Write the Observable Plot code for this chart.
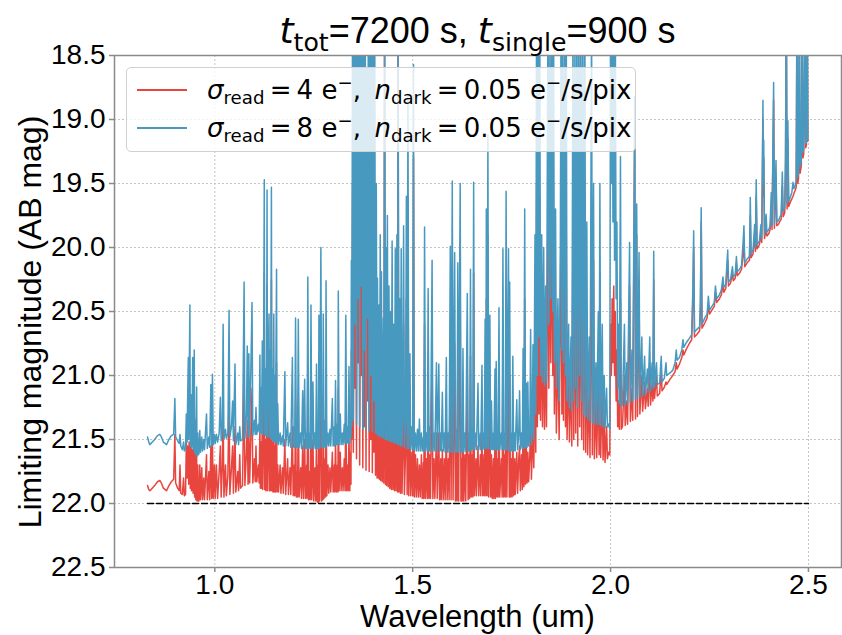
<!DOCTYPE html>
<html><head><meta charset="utf-8">
<script src="https://cdn.jsdelivr.net/npm/d3@7"></script>
<script src="https://cdn.jsdelivr.net/npm/@observablehq/plot@0.6"></script>
<style>
body{margin:0;background:#fff;}
#wrap{position:relative;width:842px;height:635px;overflow:hidden;background:#fff;}
#chart{position:absolute;left:0;top:0;}
.ov{position:absolute;white-space:nowrap;line-height:1;color:#000;}
#title{left:114px;width:727px;top:13px;text-align:center;font-family:"Liberation Sans";font-size:36px;}
.m{font-family:"DejaVu Sans";}
.m i{font-style:italic;}
sub,sup{font-size:70%;line-height:0;}
sub{vertical-align:-0.3em;}
sup{vertical-align:0.55em;}
#xlabel{left:114px;width:727px;top:601px;text-align:center;font-family:"Liberation Sans";font-size:31px;}
#ylabel{left:30px;top:322px;transform:translate(-50%,-50%) rotate(-90deg);font-family:"Liberation Sans";font-size:32px;}
#legend{position:absolute;left:126px;top:67px;width:510px;height:85px;background:rgba(255,255,255,0.8);border:1px solid #d0d0d0;border-radius:5px;box-sizing:border-box;}
.sw{position:absolute;left:10px;width:50px;height:2px;}
.lt{position:absolute;left:80px;font-family:"DejaVu Sans";font-size:26px;line-height:1;white-space:nowrap;}
</style></head>
<body>
<div id="wrap">
<div id="chart"></div>
<div id="title" class="ov"><span class="m"><i>t</i><sub>tot</sub></span>=7200 s, <span class="m"><i>t</i><sub>single</sub></span>=900 s</div>
<div id="xlabel" class="ov"></div>
<div id="ylabel" class="ov"></div>
<div id="legend"></div>
</div>
<script>
// ---- data: [wavelength (um), limiting mag (read 4 e-), limiting mag (read 8 e-)] ----
const yBand = [
[0.830,21.86,21.48],[0.833,21.89,21.52],[0.836,21.90,21.54],[0.842,21.88,21.52],[0.848,21.86,21.50],
[0.855,21.83,21.47],[0.861,21.82,21.46],[0.865,21.84,21.48],[0.870,21.88,21.52],[0.878,21.90,21.54],
[0.884,21.86,21.50],[0.890,21.83,21.47],[0.896,21.81,21.46],[0.899,21.46,21.18],[0.901,21.84,21.48],
[0.906,21.88,21.51],[0.910,21.90,21.53],[0.912,21.70,21.46],[0.914,21.92,21.55],[0.918,21.93,21.58],
[0.921,21.80,21.52],[0.923,21.94,21.59],[0.926,21.93,21.57],
[0.928,21.52,21.30],[0.930,21.80,21.52],[0.931,21.55,21.25],[0.933,21.65,20.86],[0.934,21.85,21.50],
[0.935,21.52,21.10],[0.937,21.60,20.45],[0.938,21.88,21.55],[0.940,21.55,21.15],[0.941,21.90,21.56],
[0.943,21.58,21.25],[0.944,21.70,20.86],[0.945,21.92,21.58],[0.947,21.55,21.20],[0.948,21.65,20.80],
[0.949,21.95,21.60],[0.951,21.60,21.35],[0.952,21.97,21.62],[0.954,21.62,21.09],[0.955,21.98,21.63],
[0.957,21.70,21.45],[0.958,21.98,21.62],[0.960,21.98,21.61],[0.962,21.70,21.43],[0.964,21.97,21.60],
[0.967,21.72,21.48],[0.969,21.97,21.59],[0.972,21.80,21.50],[0.974,21.97,21.58],[0.979,21.62,21.30],
[0.981,21.97,21.57],[0.985,21.75,21.48],[0.987,21.97,21.56],[0.990,21.55,21.07],[0.992,21.96,21.55],
[0.994,21.52,20.99],[0.996,21.96,21.54],[0.999,21.70,21.46],[1.001,21.96,21.53]
];
const jBand = [
[1.004,21.70,21.46],[1.007,21.96,21.52],[1.011,21.75,21.45],[1.014,21.55,21.17],[1.016,21.95,21.51],
[1.019,21.70,21.40],[1.021,21.30,20.60],[1.023,21.95,21.50],[1.027,21.70,21.42],[1.029,21.94,21.49],
[1.033,21.78,21.45],[1.036,21.15,20.49],[1.038,21.93,21.48],[1.042,21.72,21.40],[1.045,21.55,21.20],
[1.047,21.92,21.51],[1.051,21.40,20.91],[1.053,21.91,21.54],[1.058,21.75,21.45],[1.060,21.90,21.54],
[1.063,21.62,21.40],[1.065,21.88,21.51],[1.070,21.86,21.50],[1.074,21.00,20.27],[1.076,21.86,21.49],
[1.080,21.60,21.30],[1.082,21.35,20.77],[1.084,21.85,21.48],[1.086,21.40,20.83],[1.088,21.84,21.47],
[1.094,21.10,20.43],[1.096,21.84,21.47],[1.100,21.65,21.35],[1.102,21.83,21.46],[1.104,21.55,21.25],
[1.106,21.83,21.46],[1.110,21.70,21.38],[1.112,21.84,21.44],
[1.114,21.40,20.84],[1.115,21.88,21.45],[1.117,21.52,21.10],[1.118,21.88,21.45],[1.120,21.30,20.73],
[1.121,21.89,21.46],[1.123,21.52,21.00],[1.125,20.20,19.47],[1.126,21.89,21.46],[1.128,21.50,20.95],
[1.129,21.90,21.47],[1.131,21.55,20.85],[1.132,20.30,19.55],[1.133,21.90,21.48],[1.135,21.52,20.90],
[1.137,21.10,20.52],[1.138,21.90,21.48],[1.140,21.52,20.80],[1.141,21.90,21.49],[1.143,20.25,19.53],
[1.144,21.90,21.50],[1.146,21.53,20.95],[1.147,21.91,21.51],[1.149,21.10,20.52],[1.150,21.91,21.52],
[1.152,21.55,21.00],[1.153,21.91,21.52],[1.156,20.90,20.17],[1.157,21.91,21.53],[1.159,21.70,21.22],
[1.161,21.91,21.54],[1.165,21.70,21.45],[1.167,21.92,21.54],[1.171,21.72,21.47],[1.173,21.92,21.55],
[1.177,21.50,20.97],[1.179,21.93,21.55],[1.184,21.65,21.37],[1.186,21.93,21.55],[1.190,21.72,21.45],
[1.192,21.93,21.56],[1.196,21.40,20.86],[1.198,21.94,21.56],[1.201,21.70,21.40],[1.202,21.94,21.56],
[1.204,21.20,20.55],[1.206,21.95,21.56],[1.208,21.75,21.45],[1.209,21.95,21.56],[1.211,21.20,20.56],
[1.213,21.95,21.56],[1.217,21.72,21.45],[1.219,21.96,21.57],[1.222,21.55,21.12],[1.224,21.96,21.57],
[1.227,21.50,21.03],[1.229,21.96,21.57],[1.232,21.70,21.45],[1.233,21.96,21.57],[1.235,20.95,20.23],
[1.237,21.97,21.57],[1.240,21.75,21.45],[1.241,21.97,21.57],[1.243,21.15,20.45],[1.245,21.97,21.57],
[1.248,21.50,21.05],[1.250,21.98,21.57],[1.253,21.72,21.45],[1.255,21.98,21.57],[1.257,21.45,20.91],
[1.259,21.99,21.57],[1.261,21.70,21.40],[1.262,21.99,21.57],[1.263,21.20,20.53],[1.265,21.98,21.57],
[1.268,20.80,20.00],[1.270,21.98,21.56],[1.272,21.70,21.42],[1.273,21.97,21.56],[1.274,21.20,20.52],
[1.276,21.96,21.56],[1.279,21.65,21.35],[1.280,21.95,21.56],[1.281,21.05,20.26],[1.283,21.94,21.55],
[1.286,21.70,21.45],[1.288,21.92,21.55],[1.291,21.72,21.42],[1.293,21.91,21.55],[1.297,21.60,21.18],
[1.299,21.91,21.55],[1.302,21.70,21.40],[1.303,21.91,21.55],[1.305,21.50,21.04],[1.307,21.91,21.54],
[1.310,21.70,21.38],[1.311,21.91,21.54],[1.312,21.10,20.34],[1.314,21.90,21.54],[1.317,21.60,21.30],
[1.319,21.90,21.54],[1.322,21.72,21.45],[1.324,21.90,21.54],[1.327,21.65,21.38],[1.329,21.90,21.53],
[1.331,21.20,20.53],[1.333,21.90,21.53],[1.336,21.70,21.40],[1.337,21.90,21.53],[1.339,21.45,20.93],
[1.341,21.90,21.53],[1.343,21.60,21.30],[1.344,21.85,21.48],[1.345,20.80,20.10]
];
const ohGap1 = [
[1.346,21.50,21.40],[1.348,19.50,18.00],[1.350,21.60,21.35],[1.352,19.80,18.00],[1.354,21.10,20.60],
[1.356,19.00,17.80],[1.358,21.65,21.38],[1.360,19.40,18.20],[1.362,20.90,20.40],[1.364,19.20,17.90],
[1.366,21.70,21.40],[1.368,19.60,18.10],[1.370,21.00,20.30],[1.372,19.50,18.00],[1.374,21.72,21.42],
[1.376,19.70,18.30],[1.378,21.40,20.80],[1.380,19.30,17.90],[1.382,21.74,21.42],[1.384,20.00,18.60],
[1.386,21.20,20.55],[1.388,19.50,18.00],[1.390,21.75,21.43],[1.392,19.80,18.20],[1.394,21.50,21.00],
[1.396,19.40,17.90],[1.398,21.76,21.44],[1.400,20.10,18.50],[1.402,21.60,21.20],[1.404,19.60,18.00],
[1.406,21.78,21.45],[1.408,20.50,19.50],[1.410,21.80,21.46]
];
const hBand = [
[1.411,21.00,20.24],[1.413,21.80,21.47],[1.415,21.10,20.45],[1.416,21.81,21.47],[1.418,20.70,19.90],
[1.419,21.82,21.48],[1.421,20.90,20.19],[1.423,21.83,21.48],[1.426,21.20,20.55],[1.427,21.84,21.49],
[1.429,18.30,17.90],[1.431,21.85,21.50],[1.432,20.70,20.00],[1.434,21.86,21.50],[1.436,20.50,19.75],
[1.438,21.87,21.51],[1.440,21.00,20.30],[1.442,21.88,21.51],[1.444,21.20,20.50],[1.446,21.89,21.52],
[1.448,20.70,19.95],[1.450,21.89,21.52],[1.452,21.30,20.60],[1.454,21.90,21.53],[1.456,20.80,20.01],
[1.458,21.90,21.53],[1.460,20.60,19.90],[1.462,21.91,21.54],[1.463,18.50,18.00],[1.465,21.91,21.54],
[1.467,21.10,20.40],[1.469,21.92,21.55],[1.471,20.80,20.01],[1.473,21.92,21.55],[1.475,21.60,21.30],
[1.477,20.60,19.83],[1.479,21.93,21.56],[1.482,21.60,21.35],[1.484,20.40,19.60],[1.486,21.93,21.57],
[1.488,19.60,18.80],[1.490,21.94,21.57],[1.493,21.40,20.83],[1.495,21.94,21.58],[1.498,21.60,21.40],
[1.500,21.94,21.58],[1.502,19.30,18.57],[1.504,21.95,21.58],[1.507,21.62,21.45],[1.509,21.95,21.59],
[1.512,21.65,21.42],[1.514,21.95,21.59],[1.517,21.70,21.34],[1.519,21.95,21.59],[1.522,21.62,21.45],
[1.524,21.96,21.59],[1.527,21.68,21.48],[1.528,21.96,21.59],[1.530,20.60,19.84],[1.532,21.96,21.59],
[1.535,21.65,21.45],[1.537,21.96,21.59],[1.539,21.00,20.32],[1.541,21.96,21.59],[1.544,21.62,21.40],
[1.545,21.96,21.59],[1.549,20.80,20.10],[1.551,21.96,21.59],[1.554,21.65,21.45],[1.556,21.96,21.59],
[1.560,21.45,20.90],[1.562,21.96,21.59],[1.566,21.45,20.91],[1.568,21.97,21.59],[1.571,21.65,21.45],
[1.572,21.97,21.59],[1.575,21.58,21.13],[1.577,21.97,21.59],[1.580,21.65,21.45],[1.582,21.97,21.60],
[1.585,21.40,20.86],[1.587,21.97,21.60],[1.590,21.65,21.45],[1.592,21.97,21.60],[1.595,20.70,19.99],
[1.597,21.97,21.60],[1.600,20.20,19.48],[1.602,21.97,21.60],[1.606,20.75,20.04],[1.608,21.98,21.60],
[1.611,21.60,21.42],[1.612,21.98,21.60],[1.614,20.85,20.12],[1.616,21.98,21.60],[1.620,20.25,19.50],
[1.622,21.98,21.60],[1.624,21.65,21.45],[1.625,21.98,21.60],[1.627,21.35,20.79],[1.629,21.98,21.60],
[1.632,21.62,21.45],[1.634,21.98,21.59],[1.638,21.00,20.36],[1.640,21.97,21.59],[1.643,21.62,21.45],
[1.644,21.96,21.59],[1.646,20.85,20.17],[1.648,21.95,21.58],[1.651,21.62,21.42],[1.652,21.95,21.58],
[1.654,20.20,19.49],[1.656,21.94,21.58],[1.660,21.65,21.45],[1.661,21.94,21.58],[1.665,21.55,21.06],
[1.667,21.94,21.58],[1.671,21.62,21.45],[1.672,21.94,21.58],[1.675,21.45,20.92],[1.677,21.94,21.58],
[1.680,21.62,21.45],[1.681,21.94,21.57],[1.683,21.20,20.56],[1.685,21.94,21.57],[1.686,20.40,19.70],
[1.688,21.94,21.57],[1.690,19.90,19.12],[1.692,21.95,21.57],[1.695,21.20,20.53],[1.697,21.95,21.58],
[1.699,21.62,21.20],[1.701,21.96,21.58],[1.704,21.65,21.45],[1.705,21.96,21.58],[1.708,21.50,20.95],
[1.709,21.96,21.58],[1.711,21.45,20.89],[1.713,21.95,21.58],[1.715,21.65,21.45],[1.716,21.95,21.58],
[1.718,21.15,20.47],[1.720,21.95,21.58],[1.724,21.65,21.45],[1.726,21.95,21.58],[1.728,20.75,20.01],
[1.730,21.95,21.58],[1.733,21.62,21.45],[1.734,21.95,21.58],[1.736,20.30,19.56],[1.738,21.95,21.58],
[1.742,20.75,20.01],[1.744,21.95,21.59],[1.745,21.00,20.27],[1.747,21.95,21.59],[1.750,21.65,21.45],
[1.751,21.95,21.59],[1.753,21.40,20.85],[1.755,21.94,21.59],[1.758,21.65,21.45],[1.759,21.93,21.59],
[1.763,21.60,21.19],[1.765,21.92,21.58],[1.768,21.65,21.45],[1.770,21.55,21.12],[1.772,21.90,21.58],
[1.775,21.62,21.45],[1.777,21.89,21.57],[1.779,21.35,20.79],[1.781,21.87,21.57],[1.783,20.40,19.70],
[1.785,21.85,21.56],[1.787,21.55,21.06],[1.789,21.84,21.56],[1.791,21.60,21.05],[1.793,21.83,21.55],
[1.796,21.62,21.45],[1.798,21.30,20.64],[1.800,21.81,21.54],[1.802,21.60,21.40],[1.804,21.35,20.76],
[1.806,21.72,21.50]
];
const ohGap2 = [
[1.809,20.80,19.90],[1.811,21.60,21.30],[1.813,19.50,18.00],[1.815,21.40,21.00],[1.817,19.70,18.10],
[1.819,21.30,20.70],[1.821,19.60,18.00],[1.823,21.35,21.00],[1.826,20.50,19.90],[1.828,21.40,21.05],
[1.831,20.60,20.00],[1.833,21.42,21.08],[1.836,20.70,20.30],[1.838,21.40,21.05],[1.842,19.60,18.00],
[1.844,21.10,20.60],[1.847,19.80,18.20],[1.849,20.90,20.40],[1.852,19.50,18.00],[1.854,21.00,20.50],
[1.856,19.70,18.10],[1.858,21.30,20.90],[1.861,20.40,19.70],[1.863,21.45,21.10],[1.867,20.80,20.40],
[1.870,21.50,21.20],[1.873,20.60,20.00],[1.875,19.50,18.00],[1.877,21.30,20.80],[1.879,19.60,18.10],
[1.881,21.35,20.90],[1.884,19.70,18.20],[1.886,21.40,21.00],[1.888,19.80,18.10],[1.890,21.50,21.20],
[1.894,20.90,20.60],[1.896,21.52,21.25],[1.900,21.00,20.70],[1.902,21.55,21.28],[1.905,19.80,18.20],
[1.907,21.50,21.20],[1.910,19.90,18.30],[1.912,21.45,21.10],[1.915,19.70,18.00],[1.917,21.55,21.25],
[1.920,19.80,18.10],[1.922,21.40,21.00],[1.925,19.60,18.00],[1.927,21.50,21.20],[1.930,19.90,18.20],
[1.932,21.58,21.30],[1.935,19.70,18.10],[1.937,21.60,21.32],[1.940,20.50,19.80],[1.942,21.62,21.34],
[1.946,21.10,20.70],[1.948,21.64,21.36],[1.952,19.80,18.20],[1.954,21.62,21.37],[1.957,20.10,19.50],
[1.959,21.65,21.38],[1.963,21.20,20.90],[1.965,21.64,21.38],[1.969,21.00,20.50],[1.971,21.62,21.38],
[1.973,20.20,19.50],[1.975,21.64,21.39],[1.979,21.10,20.60],[1.981,21.66,21.40],[1.984,21.30,21.00],
[1.986,21.68,21.41],[1.990,21.40,21.10],[1.992,21.65,21.40],[1.995,21.60,21.38],[1.998,21.62,21.42],
[2.000,20.60,18.00],[2.002,21.00,19.50],[2.004,20.40,18.00],[2.006,20.90,19.80],[2.008,20.30,18.00],
[2.010,21.00,20.10],[2.012,20.50,18.20],[2.014,21.20,20.40],[2.016,20.80,19.80],[2.018,21.40,21.10],
[2.020,21.20,20.60],[2.022,21.42,21.22],[2.025,20.40,19.29],[2.027,21.42,21.24]
];
const kBand = [
[2.030,21.40,21.23],[2.035,21.00,20.60],[2.037,21.39,21.23],[2.041,21.20,20.90],[2.043,21.38,21.22],
[2.048,20.30,19.96],[2.050,21.36,21.21],[2.054,21.10,20.80],[2.056,21.35,21.20],[2.061,19.10,18.82],
[2.063,21.34,21.19],[2.066,19.90,19.66],[2.068,21.32,21.18],[2.072,20.30,20.04],[2.074,21.30,21.17],
[2.079,21.00,20.70],[2.081,21.28,21.16],[2.086,21.05,20.85],[2.088,21.26,21.15],[2.093,21.10,20.95],
[2.095,21.24,21.13],[2.099,20.90,20.70],[2.101,21.23,21.12],[2.105,21.05,20.90],[2.107,21.20,21.10],
[2.109,20.25,20.03],[2.111,21.18,21.09],[2.116,21.00,20.90],[2.118,21.16,21.07],[2.124,21.14,21.06],
[2.128,20.95,20.85],[2.130,21.12,21.05],[2.136,21.09,21.02],[2.140,21.05,20.90],[2.142,21.07,21.00],
[2.150,21.03,20.98],[2.157,21.00,20.96],[2.163,20.97,20.90],[2.166,20.90,20.80],[2.168,20.95,20.88],
[2.174,20.91,20.86],[2.180,20.86,20.80],[2.183,20.80,20.72],[2.185,20.84,20.78],[2.192,20.79,20.74],
[2.199,20.75,20.71],[2.205,20.72,20.68],[2.208,20.40,20.30],[2.210,20.00,19.87],[2.212,20.70,20.66],
[2.218,20.68,20.64],[2.225,20.65,20.62],[2.227,20.50,20.40],[2.229,19.80,19.69],[2.231,20.63,20.60],
[2.238,20.59,20.55],[2.244,20.55,20.52],[2.247,20.45,20.38],[2.250,20.52,20.49],[2.256,20.49,20.46],
[2.262,20.46,20.43],[2.265,20.35,20.30],[2.268,20.43,20.40],[2.275,20.40,20.37],[2.280,20.37,20.33],
[2.284,20.28,20.23],[2.286,20.35,20.31],[2.291,20.32,20.29],[2.296,20.10,20.02],[2.298,20.30,20.27],
[2.303,20.28,20.25],[2.308,20.20,20.15],[2.310,20.26,20.23],[2.315,20.24,20.21],[2.318,20.12,20.07],
[2.320,20.22,20.19],[2.326,20.20,20.17],[2.331,20.17,20.14],[2.335,20.05,19.95],[2.337,19.95,19.83],
[2.339,20.15,20.12],[2.345,20.12,20.09],[2.351,20.10,20.07],[2.353,19.75,19.61],[2.355,20.08,20.05],
[2.360,20.05,20.02],[2.364,19.90,19.82],[2.366,20.03,20.00],[2.368,19.60,19.47],[2.370,20.01,19.98],
[2.376,19.98,19.95],[2.380,19.90,19.82],[2.382,19.96,19.93],[2.385,19.00,18.85],[2.386,19.60,19.50],
[2.387,19.30,19.16],[2.389,19.93,19.90],[2.393,19.85,19.74],[2.395,19.91,19.88],[2.400,19.89,19.86],
[2.403,19.86,19.83],[2.406,19.70,19.57],[2.408,19.86,19.83],[2.412,18.85,18.71],[2.414,19.85,19.82],
[2.418,19.45,19.32],[2.420,19.83,19.80],[2.424,19.82,19.79],[2.427,19.80,19.77],[2.431,19.78,19.74],
[2.434,19.52,19.41],[2.436,19.76,19.72],[2.440,19.73,19.69],[2.442,19.40,19.30],[2.444,18.10,17.90],
[2.446,19.70,19.66],[2.448,19.15,19.01],[2.450,19.68,19.64],[2.455,19.64,19.60],[2.458,19.62,19.57],
[2.461,19.60,19.49],[2.463,19.58,19.54],[2.467,19.55,19.51],[2.469,19.53,19.48],[2.471,18.20,17.90],
[2.473,19.50,19.45],[2.475,19.46,19.41],[2.477,18.30,17.90],[2.479,19.42,19.37],[2.482,19.36,19.31],
[2.484,18.30,17.90],[2.486,19.30,19.26],[2.488,19.27,19.23],[2.491,18.30,17.90],[2.493,19.22,19.19],
[2.495,19.20,19.17],[2.497,18.30,17.90],[2.4985,19.17,19.16]
];
const thresholdMag = 22.0;
const thresholdRange = [0.83, 2.5];
const xTicks = [1.0, 1.5, 2.0, 2.5];
const yTicks = [18.5, 19.0, 19.5, 20.0, 20.5, 21.0, 21.5, 22.0, 22.5];
const seriesNames = ["read4", "read8"];
const seriesColors = ["#e8453f", "#4799c0"];
const seriesLabels = [
  '<span class="m"><i>σ</i><sub>read</sub>&#8201;=&#8201;4 e<sup>−</sup>, &#8201;<i>n</i><sub>dark</sub>&#8201;=&#8201;0.05 e<sup>−</sup>/s/pix</span>',
  '<span class="m"><i>σ</i><sub>read</sub>&#8201;=&#8201;8 e<sup>−</sup>, &#8201;<i>n</i><sub>dark</sub>&#8201;=&#8201;0.05 e<sup>−</sup>/s/pix</span>'
];
const xLabel = "Wavelength (um)";
const yLabel = "Limiting magnitude (AB mag)";

const spectrum = [...yBand, ...jBand, ...ohGap1, ...hBand, ...ohGap2, ...kBand];

const chart = Plot.plot({
  width: 842, height: 635,
  marginLeft: 114, marginRight: 1, marginTop: 55, marginBottom: 68,
  style: {fontFamily: "Liberation Sans", background: "#fff", overflow: "visible"},
  x: {domain: [0.7465, 2.5835]},
  y: {domain: [22.5, 18.5]},
  marks: [
    Plot.gridX(xTicks, {stroke: "#c4c4c4", strokeOpacity: 1, strokeDasharray: "2,2", strokeWidth: 1}),
    Plot.gridY(yTicks, {stroke: "#c4c4c4", strokeOpacity: 1, strokeDasharray: "2,2", strokeWidth: 1}),
    Plot.line(spectrum, {x: d => d[0], y: d => d[1], stroke: seriesColors[0], strokeWidth: 1.5, clip: true}),
    Plot.line(spectrum, {x: d => d[0], y: d => d[2], stroke: seriesColors[1], strokeWidth: 1.5, clip: true}),
    Plot.line(thresholdRange, {x: d => d, y: () => thresholdMag, stroke: "#000", strokeWidth: 1.5, strokeDasharray: "6,3"}),
    Plot.frame({stroke: "#8a8a8a", strokeWidth: 1.5}),
    Plot.axisX(xTicks, {tickFormat: d3.format(".1f"), tickSize: 5, tickPadding: 2, fontSize: 28, stroke: "#8a8a8a", strokeWidth: 1.5, label: null}),
    Plot.axisY(yTicks, {tickFormat: d3.format(".1f"), tickSize: 5, tickPadding: 4, fontSize: 28, stroke: "#8a8a8a", strokeWidth: 1.5, label: null})
  ]
});
document.getElementById("chart").appendChild(chart);
document.getElementById("xlabel").textContent = xLabel;
document.getElementById("ylabel").textContent = yLabel;
const leg = document.getElementById("legend");
seriesNames.forEach((n, i) => {
  const sw = document.createElement("div");
  sw.className = "sw"; sw.style.top = (21 + 38 * i) + "px"; sw.style.background = seriesColors[i];
  leg.appendChild(sw);
  const t = document.createElement("div");
  t.className = "lt"; t.style.top = (9 + 38 * i) + "px"; t.innerHTML = seriesLabels[i];
  leg.appendChild(t);
});
</script>
</body></html>
